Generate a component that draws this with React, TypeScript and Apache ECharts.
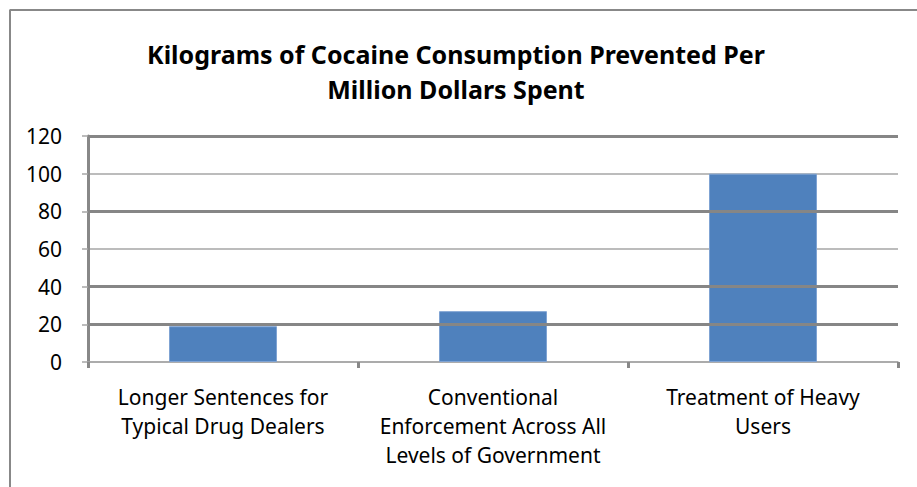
import React, { useEffect, useRef } from "react";
import * as echarts from "echarts";

const title = "Kilograms of Cocaine Consumption Prevented Per\nMillion Dollars Spent";
const categories = [
  "Longer Sentences for\nTypical Drug Dealers",
  "Conventional\nEnforcement Across All\nLevels of Government",
  "Treatment of Heavy\nUsers",
];
const values = [19, 27, 100];
const yTicks = [0, 20, 40, 60, 80, 100, 120];
const thickGridValues = [120, 80, 40, 20];

export default function App() {
  const ref = useRef<HTMLDivElement>(null);
  useEffect(() => {
    if (!ref.current) return;
    const chart = echarts.init(ref.current, undefined, { renderer: "svg" });
    const font = "'Noto Sans', 'Open Sans', sans-serif";
    chart.setOption({
      animation: false,
      backgroundColor: "#ffffff",
      title: {
        text: title,
        left: 451,
        top: 31,
        textAlign: "center",
        textStyle: {
          fontFamily: font,
          fontWeight: "bold",
          fontSize: 25,
          lineHeight: 35,
          color: "#000000",
        },
      },
      graphic: [
        {
          type: "line",
          shape: { x1: 9.5, y1: 10, x2: 917, y2: 10 },
          style: { stroke: "#888888", lineWidth: 2 },
        },
        {
          type: "line",
          shape: { x1: 10, y1: 10, x2: 10, y2: 487 },
          style: { stroke: "#888888", lineWidth: 2 },
        },
      ],
      grid: { left: 88, right: 19, top: 136, bottom: 125 },
      xAxis: {
        type: "category",
        data: categories,
        axisLine: { show: true, lineStyle: { color: "#a6a6a6", width: 1.5 } },
        axisTick: {
          show: true,
          alignWithLabel: false,
          length: 6,
          lineStyle: { color: "#888888", width: 3 },
        },
        axisLabel: {
          fontFamily: font,
          fontSize: 21,
          lineHeight: 29,
          color: "#000000",
          margin: 20,
          interval: 0,
        },
      },
      yAxis: {
        type: "value",
        min: yTicks[0],
        max: yTicks[yTicks.length - 1],
        interval: 20,
        axisLine: { show: true, lineStyle: { color: "#888888", width: 3 } },
        axisTick: { show: true, length: 6, lineStyle: { color: "#a6a6a6", width: 1.5 } },
        axisLabel: {
          fontFamily: font,
          fontSize: 21,
          color: "#000000",
          margin: 26,
        },
        splitLine: { show: true, lineStyle: { color: "#a6a6a6", width: 1.5 } },
      },
      series: [
        {
          type: "line",
          data: [],
          z: 1,
          silent: true,
          markLine: {
            silent: true,
            symbol: "none",
            label: { show: false },
            lineStyle: { color: "#868686", width: 3, type: "solid" },
            data: thickGridValues.map((v) => ({ yAxis: v })),
          },
        },
        {
          type: "bar",
          data: values,
          z: 3,
          barCategoryGap: "60%",
          itemStyle: {
            color: "#4F81BD",
            borderColor: "#7FA3D3",
            borderWidth: 1,
          },
        },
      ],
    });
    return () => chart.dispose();
  }, []);
  return <div ref={ref} style={{ width: 917, height: 487, position: "absolute", left: 0, top: 0 }} />;
}
